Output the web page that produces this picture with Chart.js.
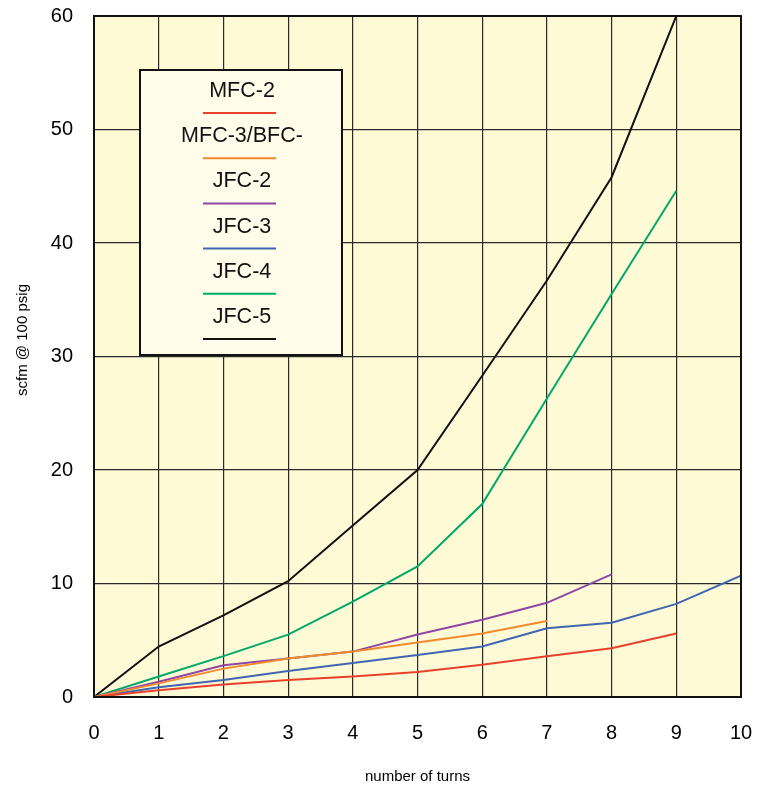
<!DOCTYPE html>
<html>
<head>
<meta charset="utf-8">
<script src="https://cdn.jsdelivr.net/npm/chart.js@4.4.1/dist/chart.umd.min.js"></script>
<style>
  html, body { margin: 0; padding: 0; background: #ffffff; }
  #wrap { width: 767px; height: 786px; position: relative; }
</style>
</head>
<body>
<div id="wrap"><canvas id="c"></canvas></div>
<script>
// ---- data ----
const turns = [0, 1, 2, 3, 4, 5, 6, 7, 8, 9, 10];
const seriesNames = ["MFC-2", "MFC-3/BFC-", "JFC-2", "JFC-3", "JFC-4", "JFC-5"];
const mfc2   = [0, 0.6, 1.1, 1.5, 1.8, 2.2, 2.85, 3.6, 4.3, 5.6];
const mfc3   = [0, 1.2, 2.5, 3.4, 4.0, 4.8, 5.6, 6.7];
const jfc2   = [0, 1.35, 2.8, 3.4, 4.0, 5.5, 6.8, 8.3, 10.8];
const jfc3   = [0, 0.85, 1.5, 2.3, 3.0, 3.7, 4.45, 6.05, 6.55, 8.2, 10.7];
const jfc4   = [0, 1.8, 3.6, 5.5, 8.4, 11.5, 17.0, 26.3, 35.5, 44.6];
const jfc5   = [0, 4.45, 7.2, 10.2, 15.1, 20.0, 28.3, 36.7, 45.8, 60.0];
const xTicks = [0, 1, 2, 3, 4, 5, 6, 7, 8, 9, 10];
const yTicks = [0, 10, 20, 30, 40, 50, 60];
const colors = ["#e8402e", "#ef8a2e", "#8f47a6", "#3f66b1", "#00a968", "#111111"];

const allSeries = [mfc2, mfc3, jfc2, jfc3, jfc4, jfc5];
const FONT = "'Liberation Sans', Arial, Helvetica, sans-serif";

const datasets = allSeries.map((vals, i) => ({
  label: seriesNames[i],
  data: vals.map((v, k) => ({ x: turns[k], y: v })),
  borderColor: colors[i],
  backgroundColor: colors[i],
  borderWidth: 2,
  pointRadius: 0,
  tension: 0,
  fill: false
}));

const bgPlugin = {
  id: 'bg',
  beforeDraw(chart) {
    const { ctx, chartArea: a } = chart;
    ctx.save();
    ctx.fillStyle = '#fffad6';
    ctx.fillRect(a.left, a.top, a.right - a.left, a.bottom - a.top);
    ctx.restore();
  },
  afterDraw(chart) {
    const { ctx, chartArea: a } = chart;
    ctx.save();
    // frame
    ctx.strokeStyle = '#111';
    ctx.lineWidth = 2;
    ctx.strokeRect(a.left, a.top, a.right - a.left, a.bottom - a.top);
    // y axis title
    ctx.fillStyle = '#000';
    ctx.font = '15px ' + FONT;
    ctx.textAlign = 'center';
    ctx.textBaseline = 'middle';
    ctx.translate(23, 340);
    ctx.rotate(-Math.PI / 2);
    ctx.fillText('scfm @ 100 psig', 0, 0);
    ctx.restore();

    // legend box
    ctx.save();
    const bx = 140, by = 70, bw = 202, bh = 285;
    ctx.fillStyle = '#fffde9';
    ctx.fillRect(bx, by, bw, bh);
    ctx.strokeStyle = '#111';
    ctx.lineWidth = 2;
    ctx.strokeRect(bx, by, bw, bh);
    ctx.font = '21.5px ' + FONT;
    ctx.textAlign = 'center';
    ctx.textBaseline = 'middle';
    chart.data.datasets.forEach((ds, i) => {
      const ty = 91 + i * 45.2;
      ctx.fillStyle = '#111';
      ctx.fillText(ds.label, 242, ty);
      const ly = ty + 22;
      ctx.strokeStyle = ds.borderColor;
      ctx.lineWidth = 2;
      ctx.beginPath();
      ctx.moveTo(203, ly);
      ctx.lineTo(276, ly);
      ctx.stroke();
    });
    ctx.restore();
  }
};

new Chart(document.getElementById('c'), {
  type: 'line',
  data: { datasets },
  options: {
    responsive: true,
    maintainAspectRatio: false,
    animation: false,
    layout: { padding: { top: 16, right: 26, left: 0, bottom: 0 } },
    plugins: { legend: { display: false }, tooltip: { enabled: false } },
    scales: {
      x: {
        type: 'linear',
        min: 0, max: 10,
        afterBuildTicks(s) { s.ticks = xTicks.map(v => ({ value: v })); },
        afterFit(s) { s.height = 89; s.paddingLeft = 0; s.paddingRight = 0; },
        grid: { color: '#2a2a2a', lineWidth: 1.2, drawTicks: false },
        border: { display: false },
        ticks: { color: '#000', padding: 24, font: { family: FONT, size: 20 }, maxRotation: 0 },
        title: { display: true, text: 'number of turns', color: '#000', font: { family: FONT, size: 15 }, padding: { top: 4, bottom: 0 } }
      },
      y: {
        type: 'linear',
        min: 0, max: 60,
        afterBuildTicks(s) { s.ticks = yTicks.map(v => ({ value: v })); },
        afterFit(s) { s.width = 94; s.paddingTop = 0; s.paddingBottom = 0; },
        grid: { color: '#2a2a2a', lineWidth: 1.2, drawTicks: false },
        border: { display: false },
        ticks: { color: '#000', padding: 21, font: { family: FONT, size: 20 } },
        title: { display: false }
      }
    }
  },
  plugins: [bgPlugin]
});
</script>
</body>
</html>
